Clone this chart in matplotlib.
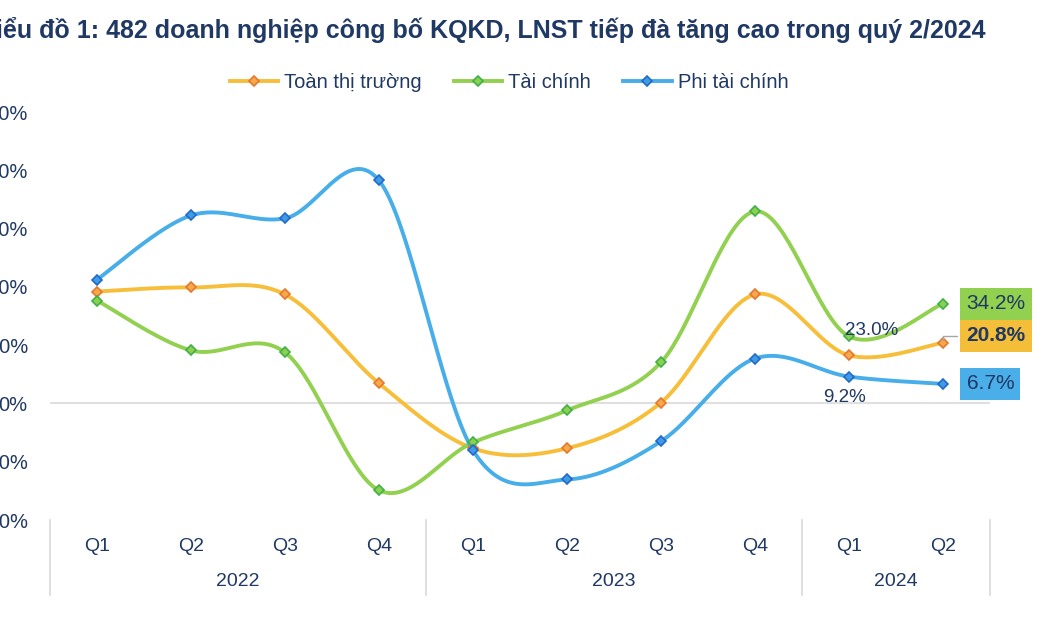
import numpy as np
import matplotlib
matplotlib.use("Agg")
import matplotlib.pyplot as plt

plt.rcParams["font.family"] = ["Liberation Sans", "DejaVu Sans"]

# data (% change in net profit after tax, year over year)
quarters = ["Q1", "Q2", "Q3", "Q4", "Q1", "Q2", "Q3", "Q4", "Q1", "Q2"]
years = ["2022", "2023", "2024"]
year_sizes = [4, 4, 2]
toan_thi_truong = [38.4, 39.8, 37.4, 6.9, -15.4, -15.4, 0.3, 37.4, 16.5, 20.8]
tai_chinh = [35.3, 18.2, 17.5, -29.8, -13.4, -2.4, 14.1, 65.9, 23.0, 34.2]
phi_tai_chinh = [42.5, 64.5, 63.5, 76.5, -16.1, -26.1, -13.0, 15.4, 9.2, 6.7]
y_ticks = [-40, -20, 0, 20, 40, 60, 80, 100]

NAVY = "#1F3864"
series = [
    ("Toàn thị trường", toan_thi_truong, "#F7BE3A", "#F6A94A", "#E8772E"),
    ("Tài chính", tai_chinh, "#92D050", "#8CD04F", "#3FAF47"),
    ("Phi tài chính", phi_tai_chinh, "#47AEEA", "#3E9CE6", "#2468C8"),
]


def smooth(xs, ys, n=40):
    """Excel-like smoothed line: Catmull-Rom turned into cubic Bezier."""
    p = np.column_stack([xs, ys]).astype(float)
    ext = np.vstack([p[0], p, p[-1]])
    out = []
    t = np.linspace(0, 1, n)[:, None]
    for i in range(len(p) - 1):
        p0, p1, p2, p3 = ext[i], ext[i + 1], ext[i + 2], ext[i + 3]
        c1 = p1 + (p2 - p0) / 6
        c2 = p2 - (p3 - p1) / 6
        seg = ((1 - t) ** 3) * p1 + 3 * ((1 - t) ** 2) * t * c1 \
            + 3 * (1 - t) * t ** 2 * c2 + t ** 3 * p2
        out.append(seg)
    pts = np.vstack(out)
    return pts[:, 0], pts[:, 1]


fig = plt.figure(figsize=(10.5, 6.3), dpi=100)
ax = fig.add_axes([50 / 1050, 1 - 520 / 630, 940 / 1050, 408 / 630])

x = np.arange(len(quarters))
for name, vals, line_c, face_c, edge_c in series:
    sx, sy = smooth(x, vals)
    ax.plot(sx, sy, color=line_c, lw=2.8, solid_capstyle="round", zorder=2)
    ax.plot(x, vals, ls="none", marker="D", ms=5.5, mfc=face_c, mec=edge_c,
            mew=1.2, zorder=3)
    ax.plot([], [], color=line_c, lw=2.8, marker="D", ms=5.5, mfc=face_c,
            mec=edge_c, mew=1.2, label=name)

ax.set_xlim(-0.5, len(quarters) - 0.5)
ax.set_ylim(y_ticks[0], y_ticks[-1])
ax.set_yticks(y_ticks)
ax.set_yticklabels([f"{v}%" for v in y_ticks])
ax.tick_params(axis="y", length=0, pad=16, labelsize=14.5, labelcolor=NAVY)
ax.set_xticks([])
for s in ax.spines.values():
    s.set_visible(False)
ax.axhline(0, color="#D9D9D9", lw=1.2, zorder=1)

# two-level category axis
trans = ax.get_xaxis_transform()
for i, q in enumerate(quarters):
    ax.text(i, -0.065, q, transform=trans, ha="center", va="center",
            fontsize=14, color=NAVY)
bounds = np.concatenate([[0], np.cumsum(year_sizes)]) - 0.5
for b in bounds:
    ax.plot([b, b], [0, -0.185], transform=trans, color="#D9D9D9", lw=1.2,
            clip_on=False)
for yr, lo, hi in zip(years, bounds[:-1], bounds[1:]):
    ax.text((lo + hi) / 2, -0.15, yr, transform=trans, ha="center",
            va="center", fontsize=14, color=NAVY)

# data labels
last = len(quarters) - 1
ax.annotate("23.0%", (8, tai_chinh[8]), xytext=(16, 4), textcoords="offset points",
            ha="center", va="center", fontsize=13.5, color=NAVY)
ax.annotate("9.2%", (8, phi_tai_chinh[8]), xytext=(-3, -15),
            textcoords="offset points", ha="center", va="center",
            fontsize=13.5, color=NAVY)
box_specs = [
    (tai_chinh[last], "34.2%", "#92D050", "normal", 0),
    (toan_thi_truong[last], "20.8%", "#F5BE38", "bold", 5),
    (phi_tai_chinh[last], "6.7%", "#4AAEE8", "normal", 0),
]
for val, txt, bg, wt, dy in box_specs:
    ax.annotate(txt, (last, val), xytext=(17, dy), textcoords="offset points",
                ha="left", va="center", fontsize=15, fontweight=wt,
                color=NAVY, annotation_clip=False,
                bbox=dict(boxstyle="square,pad=0.3", fc=bg, ec="none"))
# short leader line from the 20.8% point to its label
ax.annotate("", (last, toan_thi_truong[last]), xytext=(12, 5),
            textcoords="offset points",
            arrowprops=dict(arrowstyle="-", color="#A6A6A6", lw=1,
                            connectionstyle="angle,angleA=0,angleB=90,rad=0"))

leg = fig.legend(loc="center", bbox_to_anchor=(509 / 1050, 1 - 83 / 630),
                 ncol=3, frameon=False, fontsize=14.5, handlelength=2.4,
                 handletextpad=0.3, columnspacing=1.6)
for t in leg.get_texts():
    t.set_color(NAVY)

fig.text(-0.021, 1 - 30 / 630,
         "Biểu đồ 1: 482 doanh nghiệp công bố KQKD, LNST tiếp đà tăng cao trong quý 2/2024",
         ha="left", va="center", fontsize=18, fontweight="bold", color=NAVY)

fig.savefig("out.png", dpi=100)
